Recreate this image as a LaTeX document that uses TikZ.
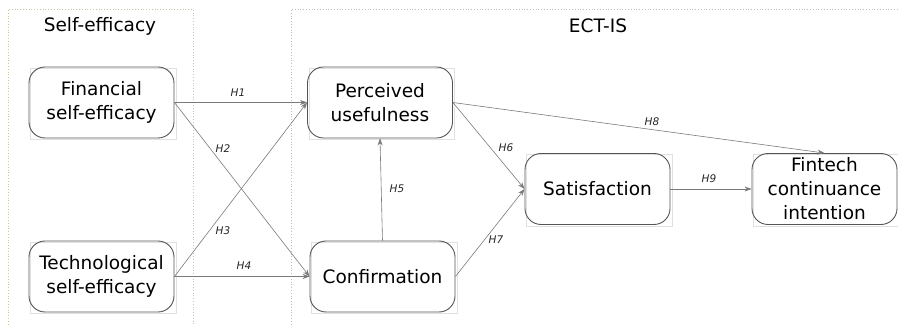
\documentclass[tikz,border=0pt]{standalone}
\usepackage{fontspec}
\setmainfont{DejaVu Sans}
\usetikzlibrary{arrows.meta}
\definecolor{framegray}{HTML}{555555}
\definecolor{linkgray}{HTML}{7A7A7A}
\definecolor{oliveframe}{HTML}{C9C79A}
\definecolor{grayframe}{HTML}{BDBDBD}
\tikzset{
  construct/.style={draw=framegray, line width=0.9pt, rounded corners=16pt,
    minimum width=145pt, minimum height=71pt, align=center,
    font=\fontsize{18.5}{24}\selectfont, inner sep=0pt},
  shadowbox/.style={draw=black!12, line width=0.5pt},
  link/.style={draw=linkgray, line width=0.6pt,
    -{Stealth[length=7pt,width=5pt]}},
  hyp/.style={font=\fontsize{10.5}{12}\selectfont\itshape, text=black!85, inner sep=1pt},
  grouptitle/.style={font=\fontsize{18.5}{22}\selectfont, inner sep=0pt}
}
\begin{document}
\begin{tikzpicture}[x=1pt,y=-1pt]
\useasboundingbox (0,0) rectangle (898,326);

% group frames
\draw[oliveframe, dotted, line width=0.8pt] (8,330) -- (8,9) -- (193,9) -- (193,330);
\draw[grayframe, dotted, line width=0.8pt] (291,330) -- (291,9) -- (902,9);
\node[grouptitle] (tse) at (100,26) {Self-efficacy};
\node[grouptitle] (tect) at (598,26) {ECT-IS};

% faint frames behind the constructs
\foreach \cx/\cy in {101.5/102.5, 101.5/276.5, 380/102.5, 382.5/276.5, 597.5/189, 824.5/189}
  \draw[shadowbox] (\cx-71,\cy-34.5) rectangle (\cx+74.5,\cy+37);

% constructs
\node[construct] (fin)  at (101.5,102.5) {Financial\\self-efficacy};
\node[construct] (tech) at (101.5,276.5) {Technological\\self-efficacy};
\node[construct] (pu)   at (380,102.5)   {Perceived\\usefulness};
\node[construct] (conf) at (382.5,276.5) {Confirmation};
\node[construct] (sat)  at (597.5,189)   {Satisfaction};
\node[construct] (fci)  at (824.5,189)   {Fintech\\continuance\\intention};

% hypotheses
\draw[link] (fin.east) -- (pu.west);
\draw[link] (fin.east) -- (conf.west);
\draw[link] (tech.east) -- (pu.west);
\draw[link] (tech.east) -- (conf.west);
\draw[link] (conf.north) -- (pu.south);
\draw[link] (pu.east) -- (sat.west);
\draw[link] (conf.east) -- (sat.west);
\draw[link] (pu.east) -- (fci.north);
\draw[link] (sat.east) -- (fci.west);

% hypothesis labels
\node[hyp] (h1) at (238,93)  {H1};
\node[hyp] (h2) at (223,149) {H2};
\node[hyp] (h3) at (223,231) {H3};
\node[hyp] (h4) at (244,266) {H4};
\node[hyp] (h5) at (397,189) {H5};
\node[hyp] (h6) at (506,148) {H6};
\node[hyp] (h7) at (496,240) {H7};
\node[hyp] (h8) at (652,122) {H8};
\node[hyp] (h9) at (709,179) {H9};
\end{tikzpicture}
\end{document}
